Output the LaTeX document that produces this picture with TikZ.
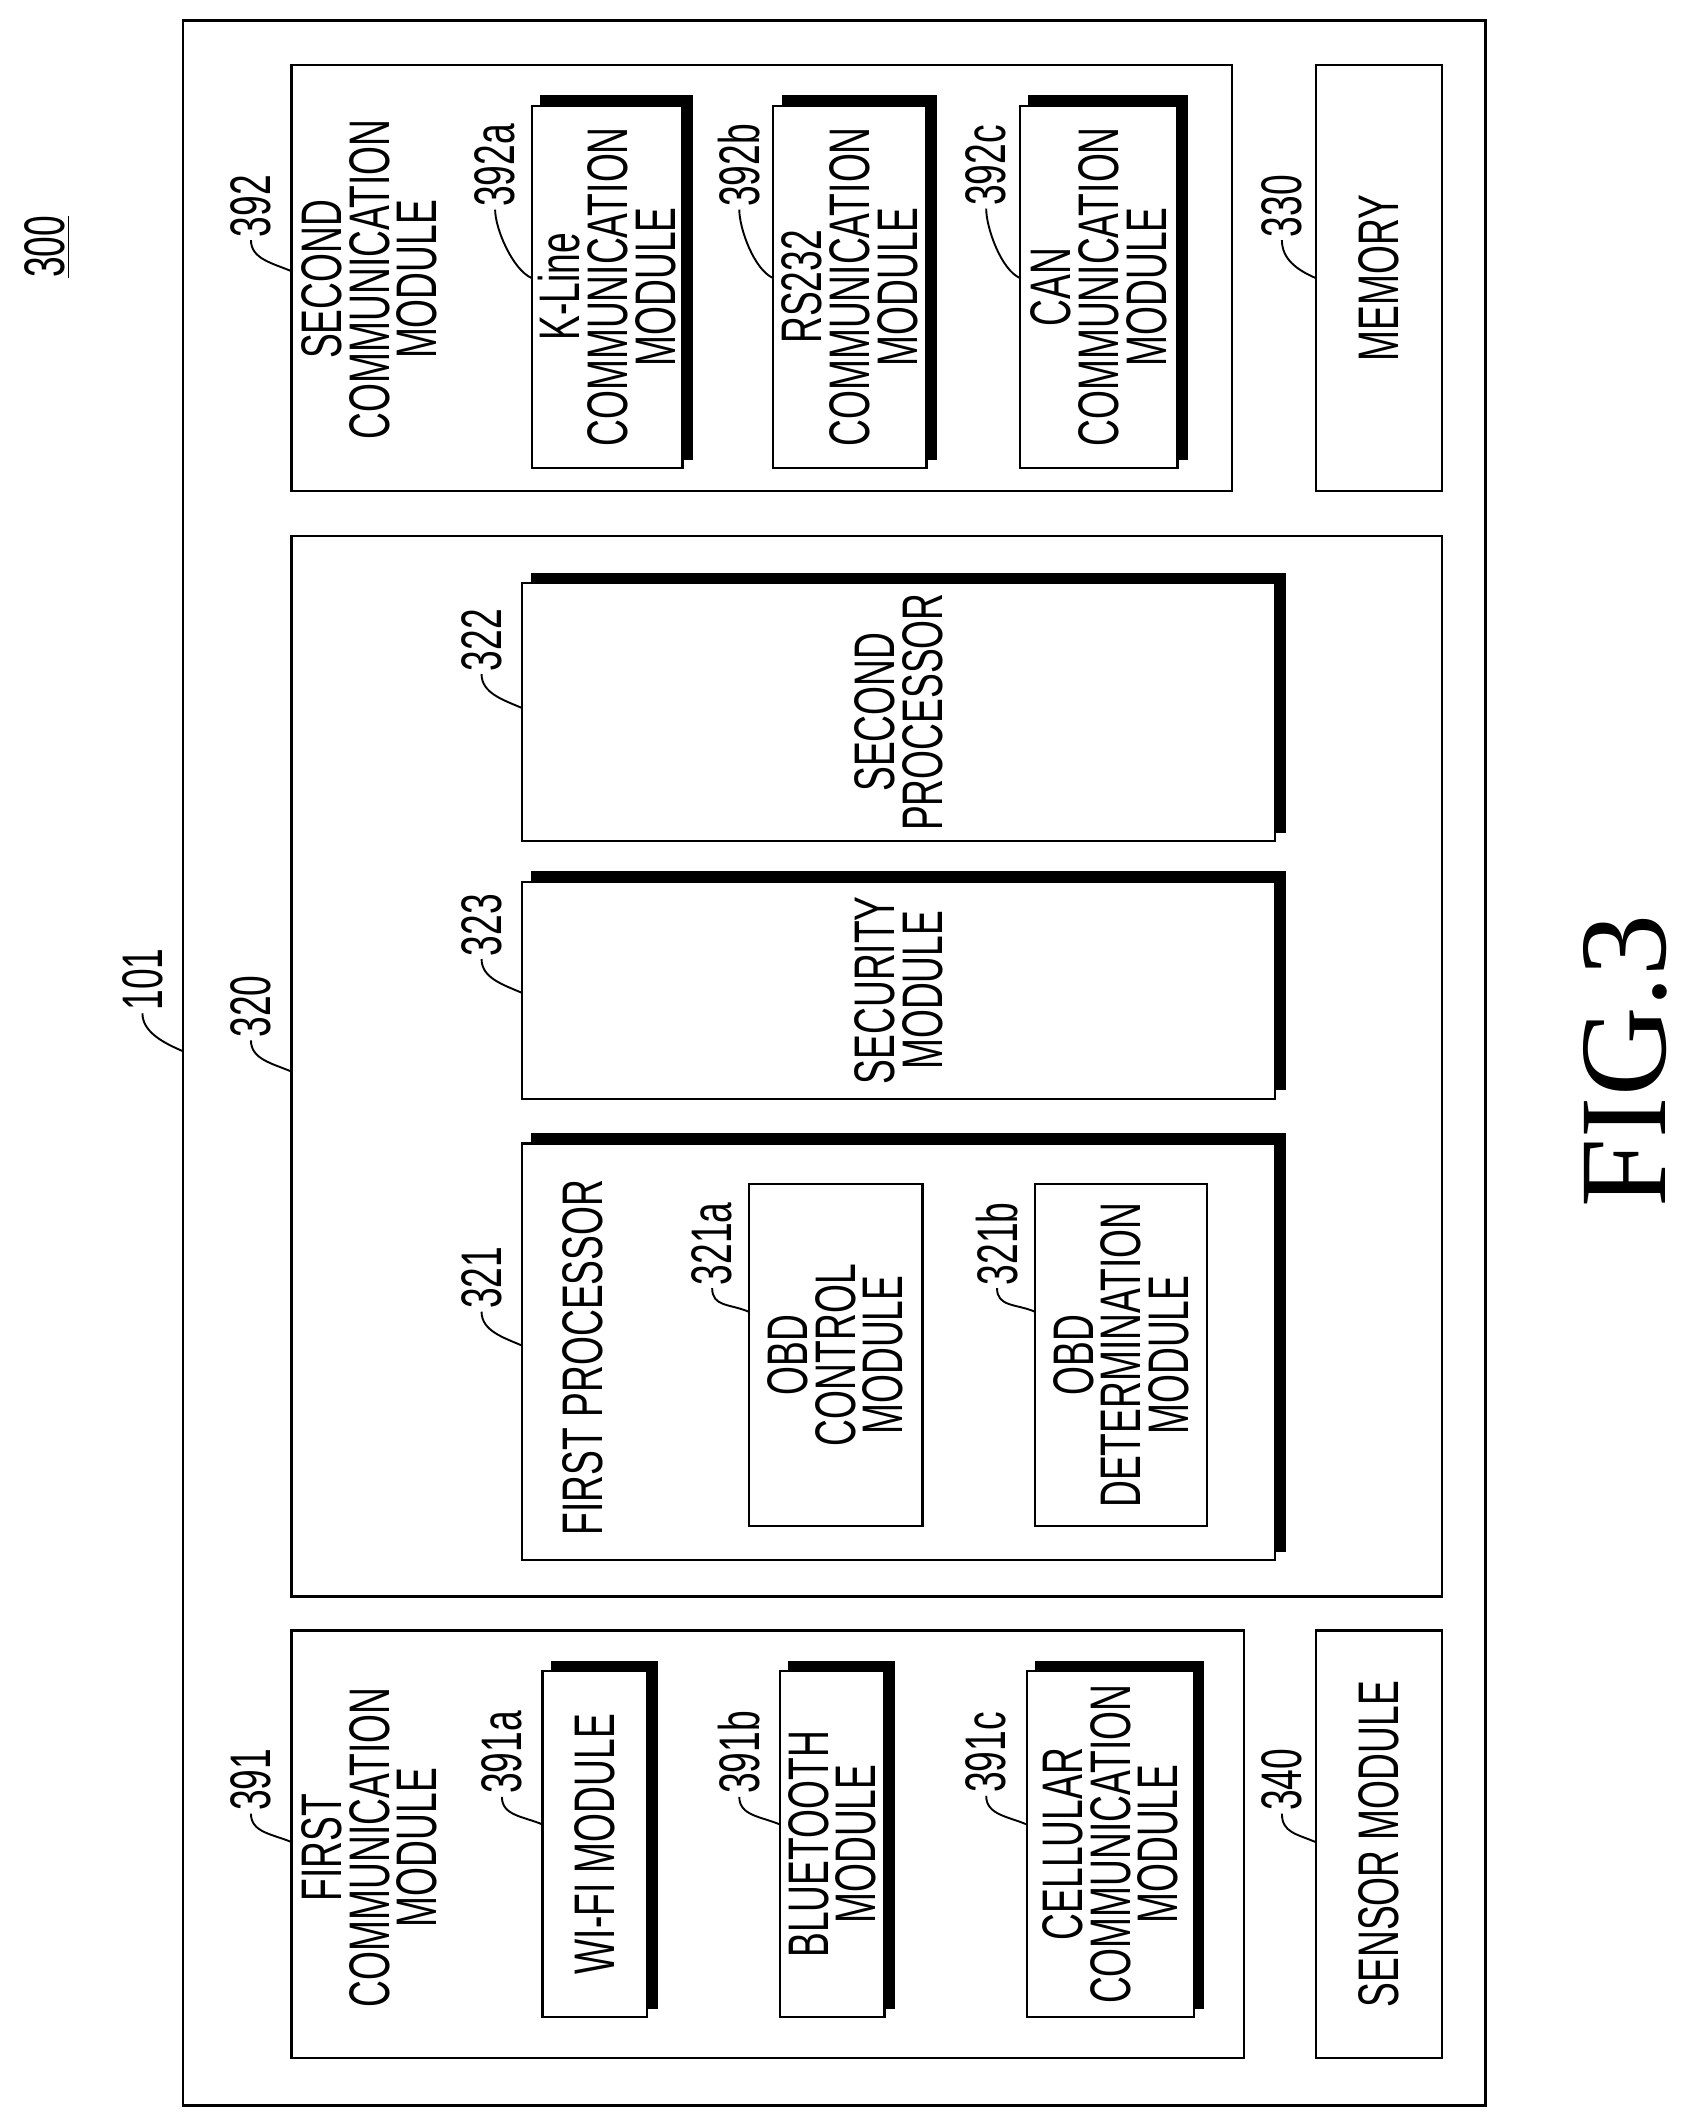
\documentclass[tikz,border=0pt]{standalone}
\usepackage{fontspec}
\setsansfont{Liberation Sans}[FakeStretch=0.65]
\setmainfont{Liberation Serif}
\usetikzlibrary{shadows}

\tikzset{
  txt/.style={font=\sffamily\fontsize{24}{20}\selectfont, rotate=90, inner sep=0pt, align=center},
  box/.style={draw, line width=1pt, fill=white, inner sep=0pt},
  shbox/.style={box, copy shadow={shadow xshift=4pt, shadow yshift=4pt, fill=black, draw=black}},
  lbl/.style={font=\sffamily\fontsize{24}{20}\selectfont, rotate=90, inner sep=1pt},
  lead/.style={line width=0.8pt},
}
% block from screen corners (x1,y1)-(x2,y2), text rotated
\newcommand{\blk}[7]{%
  \pgfmathsetmacro{\bw}{0.02*(#5-#3)}%
  \pgfmathsetmacro{\bh}{0.02*(#4-#2)}%
  \node[#6, txt, minimum width=\bw cm, minimum height=\bh cm]
    (#1) at ({(#2+#4)/2},{(#3+#5)/2}) {#7};}
% reference numeral with leader to a point
\newcommand{\refnum}[6]{%
  \node[lbl] (#1) at (#2,#3) {#4};
  \coordinate (#1e) at (#5,#6);
  \draw[lead] (#1.west) .. controls +(0,14) and +(-14,-6) .. (#1e);}

\begin{document}
\begin{tikzpicture}[x=0.02cm,y=-0.02cm]
\useasboundingbox (0,0) rectangle (1245,1568);

\blk{dev}{135}{15}{1095}{1552}{box}{}
\blk{comtwo}{215}{48}{908}{362}{box}{}
\blk{mem}{970}{48}{1063}{362}{box}{MEMORY}
\blk{proc}{215}{395}{1063}{1177}{box}{}
\blk{comone}{215}{1202}{917}{1517}{box}{}
\blk{sens}{970}{1202}{1063}{1517}{box}{SENSOR MODULE}

\node[txt, anchor=north] (comtwot) at (222,206) {SECOND\\COMMUNICATION\\MODULE};
\blk{kline}{392}{78}{503}{345}{shbox}{K-Line\\COMMUNICATION\\MODULE}
\blk{rs}{570}{78}{683}{345}{shbox}{RS232\\COMMUNICATION\\MODULE}
\blk{can}{752}{78}{868}{345}{shbox}{CAN\\COMMUNICATION\\MODULE}

\blk{proctwo}{385}{430}{940}{620}{shbox}{SECOND\\PROCESSOR}
\blk{sec}{385}{650}{940}{810}{shbox}{SECURITY\\MODULE}
\blk{procone}{385}{843}{940}{1150}{shbox}{}
\node[txt, align=left, anchor=north west] (proconet) at (414,1132) {FIRST PROCESSOR};
\blk{obdc}{552}{873}{680}{1125}{box}{OBD\\CONTROL\\MODULE}
\blk{obdd}{763}{873}{890}{1125}{box}{OBD\\DETERMINATION\\MODULE}

\node[txt, anchor=north] (comonet) at (222,1362) {FIRST\\COMMUNICATION\\MODULE};
\blk{wifi}{400}{1232}{477}{1487}{shbox}{WI-FI MODULE}
\blk{bt}{575}{1232}{652}{1487}{shbox}{BLUETOOTH\\MODULE}
\blk{cell}{757}{1232}{880}{1487}{shbox}{CELLULAR\\COMMUNICATION\\MODULE}

\refnum{n392}{185}{152}{392}{215}{200}
\refnum{n392a}{365}{122}{392a}{392}{205}
\refnum{n392b}{545}{122}{392b}{570}{205}
\refnum{n392c}{727}{122}{392c}{752}{205}
\refnum{n330}{945}{152}{330}{970}{205}
\refnum{n101}{105}{722}{101}{135}{775}
\refnum{n320}{185}{742}{320}{215}{790}
\refnum{n322}{355}{472}{322}{385}{522}
\refnum{n323}{355}{682}{323}{385}{732}
\refnum{n321}{355}{942}{321}{385}{992}
\refnum{n321a}{525}{917}{321a}{552}{967}
\refnum{n321b}{735}{917}{321b}{763}{967}
\refnum{n391}{185}{1312}{391}{215}{1358}
\refnum{n391a}{370}{1292}{391a}{400}{1345}
\refnum{n391b}{545}{1292}{391b}{575}{1345}
\refnum{n391c}{727}{1292}{391c}{757}{1345}
\refnum{n340}{945}{1312}{340}{970}{1358}

\node[lbl] (fig) at (35,182) {\underline{300}};
\node[rotate=90, font=\rmfamily\fontsize{52}{52}\selectfont, inner sep=0pt] (figt) at (1198,782) {FIG.3};
\end{tikzpicture}
\end{document}
